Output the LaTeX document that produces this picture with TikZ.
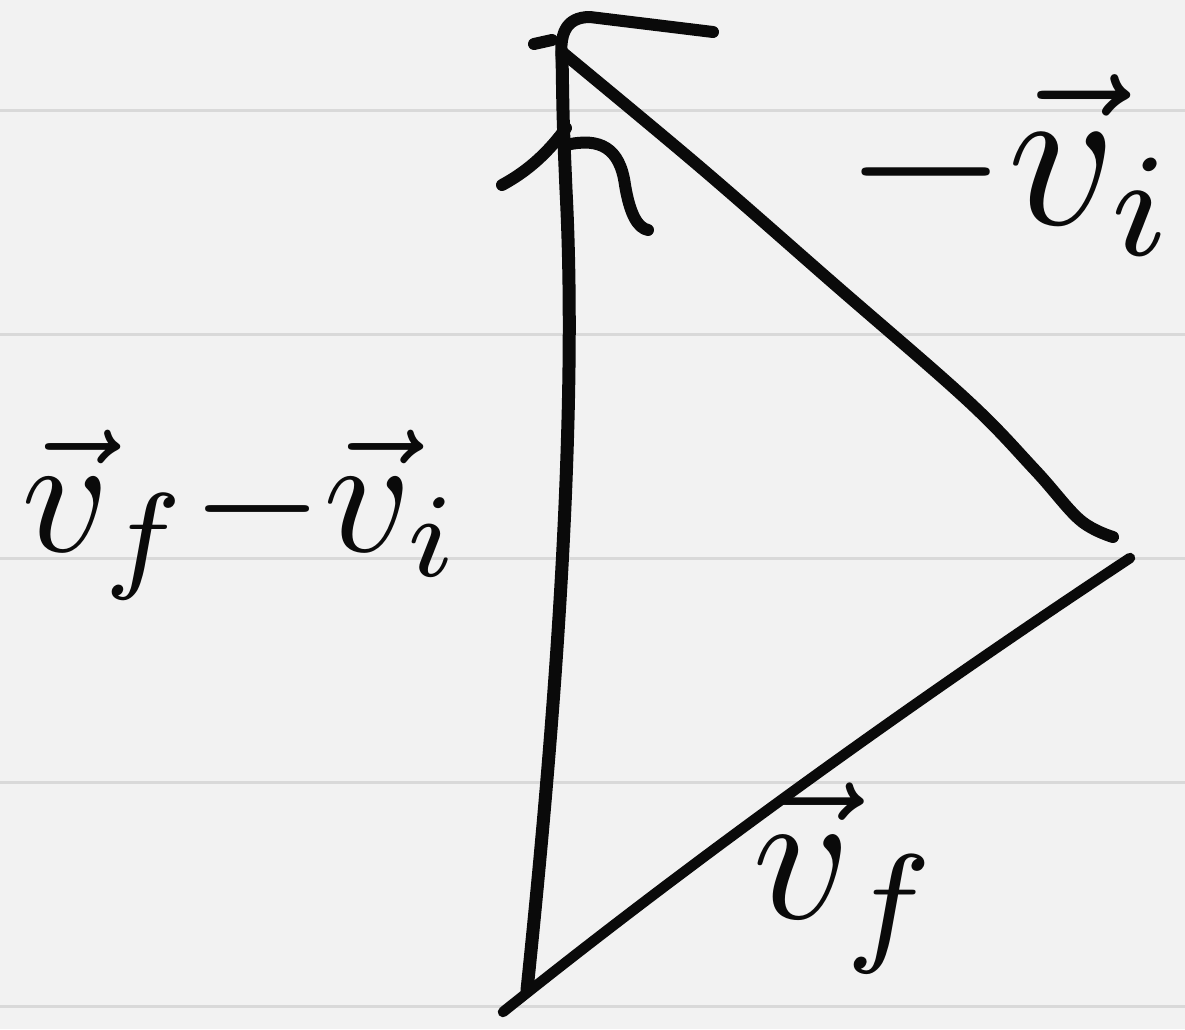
\documentclass[tikz,border=0pt]{standalone}
\usepackage{amsmath}
\definecolor{paper}{HTML}{F2F2F2}
\definecolor{rulec}{HTML}{D9D9D9}
\definecolor{inkc}{HTML}{0A0A0A}
\begin{document}
\begin{tikzpicture}[x=1pt,y=-1pt,
  ink/.style={draw=inkc, line width=12pt, line cap=round, line join=round},
  rule/.style={draw=rulec, line width=3pt},
  lbl/.style={inner sep=0pt, text=inkc}]
\fill[paper] (0,0) rectangle (1185,1029);
\useasboundingbox (0,0) rectangle (1185,1029);
\foreach \yy in {110,334,558,782,1006} \draw[rule] (0,\yy) -- (1185,\yy);
% vertices
\coordinate (B) at (527,990);
\coordinate (T) at (562,52);
\coordinate (Ri) at (1113,537);
\coordinate (Rf) at (1130,558);
\coordinate (Bf) at (503,1012);
% v_f - v_i (vertical)
\draw[ink, line width=13pt] (B) .. controls (555,720) and (578,420) .. (566,190) .. controls (563,120) .. (T);
% arrowhead of v_f - v_i
\draw[ink] (502,185) .. controls (530,170) and (550,150) .. (566,128);
\draw[ink] (566,145) .. controls (600,137) and (620,148) .. (625,185) .. controls (630,215) and (638,228) .. (648,230);
% -v_i (diagonal)
\draw[ink] plot[smooth, tension=0.6] coordinates {(T) (700,167) (833,283) (967,400) (1035,470) (1080,520) (Ri)};
% arrowhead of -v_i
\draw[ink] (562,62) .. controls (559,35) and (565,17) .. (590,17) -- (713,32);
\draw[ink] (534,44) -- (552,40);
% v_f
\draw[ink, line width=10.5pt] (Bf) .. controls (680,870) and (900,710) .. (Rf);
% labels
\node[lbl, scale=17] (ldiff) at (242,515) {$\vec{v}_{f}{-}\vec{v}_{i}$};
\node[lbl, scale=21] (lvi) at (1012,165) {${-}\vec{v}_{i}$};
\node[lbl, scale=19] (lvf) at (848,878) {$\vec{v}_{f}$};
\end{tikzpicture}
\end{document}
